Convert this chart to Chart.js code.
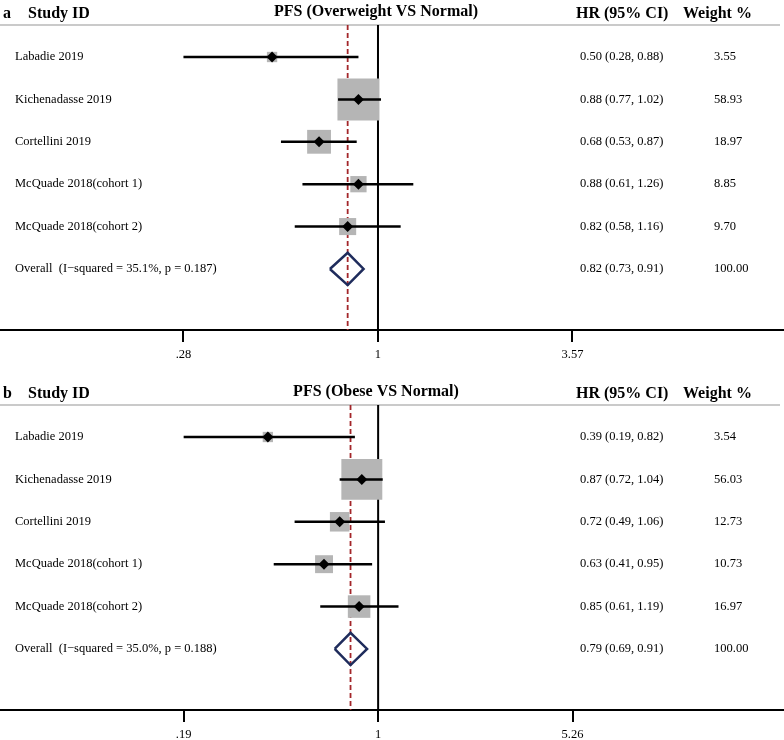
<!DOCTYPE html>
<html>
<head>
<meta charset="utf-8">
<script src="https://cdn.jsdelivr.net/npm/chart.js@4.4.1/dist/chart.umd.min.js"></script>
<style>
  html, body { margin: 0; padding: 0; background: #fff; overflow: hidden; }
  canvas { position: absolute; left: 0; }
  #chartA { top: 0; }
  #chartB { top: 380px; }
</style>
</head>
<body>
<canvas id="chartA" width="784" height="370"></canvas>
<canvas id="chartB" width="784" height="370"></canvas>
<script>
var studies = ['Labadie 2019', 'Kichenadasse 2019', 'Cortellini 2019', 'McQuade 2018(cohort 1)', 'McQuade 2018(cohort 2)'];

// panel a: overweight vs normal
var hrA = [0.50, 0.88, 0.68, 0.88, 0.82];
var lowA = [0.28, 0.77, 0.53, 0.61, 0.58];
var highA = [0.88, 1.02, 0.87, 1.26, 1.16];
var weightA = [3.55, 58.93, 18.97, 8.85, 9.70];
var overallA = [0.82, 0.73, 0.91];
var overallTextA = 'Overall  (I\u2212squared = 35.1%, p = 0.187)';
var ticksA = [0.28, 1, 3.57];
var tickLabelsA = ['.28', '1', '3.57'];

// panel b: obese vs normal
var hrB = [0.39, 0.87, 0.72, 0.63, 0.85];
var lowB = [0.19, 0.72, 0.49, 0.41, 0.61];
var highB = [0.82, 1.04, 1.06, 0.95, 1.19];
var weightB = [3.54, 56.03, 12.73, 10.73, 16.97];
var overallB = [0.79, 0.69, 0.91];
var overallTextB = 'Overall  (I\u2212squared = 35.0%, p = 0.188)';
var ticksB = [0.19, 1, 5.26];
var tickLabelsB = ['.19', '1', '5.26'];

var serif = '"Liberation Serif", "Times New Roman", serif';
var yMin = -0.755, yMax = 6.44;

var forestText = {
    id: 'forestText',
    beforeDatasetsDraw: function (chart, args, o) {
        var ctx = chart.ctx, a = chart.chartArea;
        ctx.save();
        ctx.strokeStyle = '#b8b8b8';
        ctx.lineWidth = 1.5;
        ctx.beginPath();
        ctx.moveTo(a.left, a.top);
        ctx.lineTo(a.right - 4, a.top);
        ctx.stroke();
        ctx.restore();
    },
    afterDraw: function (chart, args, o) {
        var ctx = chart.ctx, ys = chart.scales.y;
        ctx.save();
        ctx.fillStyle = '#000';
        ctx.textBaseline = 'alphabetic';
        ctx.font = 'bold 16px ' + serif;
        ctx.textAlign = 'left';
        ctx.fillText(o.panel, 3, 18);
        ctx.fillText('Study ID', 28, 18);
        ctx.fillText('HR (95% CI)', 576, 18);
        ctx.fillText('Weight %', 683, 18);
        ctx.textAlign = 'center';
        ctx.fillText(o.title, 376, 16);

        ctx.font = '12.5px ' + serif;
        ctx.textBaseline = 'middle';
        var labels = studies.concat([o.overallText]);
        var hr = o.hr.concat([o.overall[0]]);
        var lo = o.low.concat([o.overall[1]]);
        var hi = o.high.concat([o.overall[2]]);
        var w = o.weight.concat([100]);
        for (var i = 0; i < labels.length; i++) {
            var y = ys.getPixelForValue(i);
            ctx.textAlign = 'left';
            ctx.fillText(labels[i], 15, y);
            ctx.fillText(hr[i].toFixed(2) + ' (' + lo[i].toFixed(2) + ', ' + hi[i].toFixed(2) + ')', 580, y);
            ctx.fillText(w[i].toFixed(2), 714, y);
        }
        ctx.restore();
    }
};

function makeForest(id, panel, title, hr, low, high, weight, overall, overallText, ticks, tickLabels, xMin, xMax) {
    var datasets = [];
    var rows = hr.map(function (v, i) { return i; });

    // study point estimates (small black diamonds)
    datasets.push({
        data: hr.map(function (v, i) { return { x: v, y: i }; }),
        pointStyle: 'rectRot', pointRadius: 5.5, backgroundColor: '#000', borderWidth: 0,
        showLine: false
    });
    // confidence intervals
    rows.forEach(function (i) {
        datasets.push({
            data: [{ x: low[i], y: i }, { x: high[i], y: i }],
            showLine: true, borderColor: '#000', borderWidth: 2.5, pointRadius: 0
        });
    });
    // weight boxes
    datasets.push({
        data: hr.map(function (v, i) { return { x: v, y: i }; }),
        pointStyle: 'rect',
        pointRadius: weight.map(function (w) { return 5.47 * Math.sqrt(w) / (2 * Math.SQRT1_2); }),
        backgroundColor: '#b5b5b5', borderWidth: 0, showLine: false
    });
    // overall diamond
    var r = hr.length;
    datasets.push({
        data: [
            { x: overall[1], y: r }, { x: overall[0], y: r - 0.38 },
            { x: overall[2], y: r }, { x: overall[0], y: r + 0.38 },
            { x: overall[1], y: r }
        ],
        showLine: true, borderColor: '#1f2c5c', borderWidth: 2.5, pointRadius: 0,
        borderJoinStyle: 'miter', fill: false
    });
    // overall estimate reference line
    datasets.push({
        data: [{ x: overall[0], y: yMin }, { x: overall[0], y: yMax }],
        showLine: true, borderColor: '#a3262a', borderWidth: 1.8, borderDash: [5, 3], pointRadius: 0
    });
    // null line
    datasets.push({
        data: [{ x: 1, y: yMin }, { x: 1, y: yMax }],
        showLine: true, borderColor: '#000', borderWidth: 2, pointRadius: 0
    });

    return new Chart(id, {
        type: 'scatter',
        data: { datasets: datasets },
        plugins: [forestText],
        options: {
            responsive: false,
            animation: false,
            layout: { autoPadding: false, padding: { top: 25, left: 0, right: 0, bottom: 3 } },
            plugins: {
                legend: { display: false },
                tooltip: { enabled: false },
                forestText: {
                    panel: panel, title: title, hr: hr, low: low, high: high,
                    weight: weight, overall: overall, overallText: overallText
                }
            },
            scales: {
                x: {
                    type: 'logarithmic',
                    min: xMin, max: xMax,
                    afterBuildTicks: function (scale) {
                        scale.ticks = ticks.map(function (v) { return { value: v }; });
                    },
                    ticks: {
                        color: '#000', padding: 5, autoSkip: false, maxRotation: 0,
                        font: { family: serif, size: 12.5 },
                        callback: function (v, i) { return tickLabels[i]; }
                    },
                    grid: { drawOnChartArea: false, drawTicks: true, tickLength: 12, color: '#000', lineWidth: 2 },
                    border: { display: true, color: '#000', width: 2 }
                },
                y: {
                    type: 'linear', display: false, reverse: true, min: yMin, max: yMax
                }
            }
        }
    });
}

makeForest('chartA', 'a', 'PFS (Overweight VS Normal)', hrA, lowA, highA, weightA, overallA, overallTextA, ticksA, tickLabelsA, 0.0843, 14.25);
makeForest('chartB', 'b', 'PFS (Obese VS Normal)', hrB, lowB, highB, weightB, overallB, overallTextB, ticksB, tickLabelsB, 0.0396, 32.0);
</script>
</body>
</html>
